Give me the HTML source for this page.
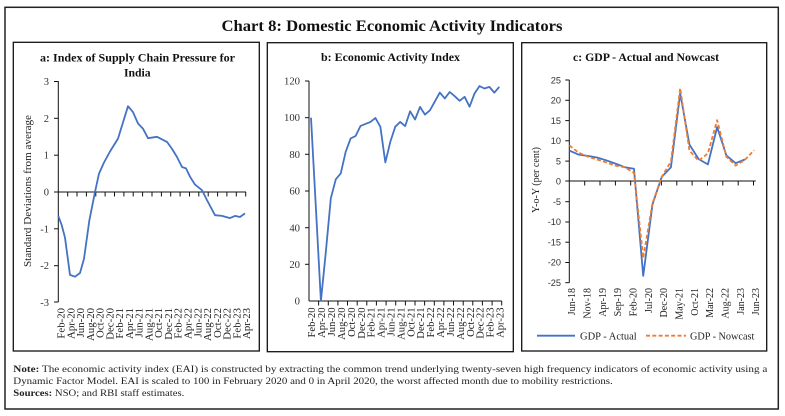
<!DOCTYPE html>
<html>
<head>
<meta charset="utf-8">
<style>
html,body{margin:0;padding:0;background:#fff;}
svg{display:block;}
</style>
</head>
<body>
<svg width="785" height="416" viewBox="0 0 785 416" xmlns="http://www.w3.org/2000/svg" font-family="'Liberation Serif', serif">
<rect x="0" y="0" width="785" height="416" fill="#fff"/>
<!-- outer border -->
<rect x="5" y="7.3" width="773.3" height="401.7" fill="none" stroke="#222" stroke-width="1.5"/>
<!-- main title -->
<text x="392" y="31" text-anchor="middle" font-size="15.5" font-weight="bold" fill="#111" textLength="341" lengthAdjust="spacingAndGlyphs">Chart 8: Domestic Economic Activity Indicators</text>

<!-- panel borders -->
<rect x="13.3" y="42.3" width="246" height="308.7" fill="none" stroke="#111" stroke-width="1.3"/>
<rect x="267.3" y="42.7" width="246" height="309" fill="none" stroke="#111" stroke-width="1.3"/>
<rect x="521.7" y="42.7" width="245" height="308.3" fill="none" stroke="#111" stroke-width="1.3"/>

<!-- ================= Panel a ================= -->
<text x="137.5" y="61.7" text-anchor="middle" font-size="12" font-weight="bold" fill="#111" textLength="195" lengthAdjust="spacingAndGlyphs">a: Index of Supply Chain Pressure for</text>
<text x="137.3" y="76.5" text-anchor="middle" font-size="12" font-weight="bold" fill="#111" textLength="26.7" lengthAdjust="spacingAndGlyphs">India</text>
<text transform="translate(31,191) rotate(-90)" text-anchor="middle" font-size="10.5" fill="#222" textLength="152" lengthAdjust="spacingAndGlyphs">Standard  Deviations from average</text>
<g font-size="10.5" fill="#333" text-anchor="end">
<text x="49" y="85">3</text>
<text x="49" y="121.9">2</text>
<text x="49" y="158.7">1</text>
<text x="49" y="195.5">0</text>
<text x="49" y="232.4">-1</text>
<text x="49" y="269.2">-2</text>
<text x="49" y="306">-3</text>
</g>
<g stroke="#111" stroke-width="1">
<line x1="58.3" y1="81" x2="58.3" y2="302"/>
<line x1="54" y1="81.5" x2="58.3" y2="81.5"/>
<line x1="54" y1="118.3" x2="58.3" y2="118.3"/>
<line x1="54" y1="155.2" x2="58.3" y2="155.2"/>
<line x1="54" y1="192" x2="58.3" y2="192"/>
<line x1="54" y1="228.8" x2="58.3" y2="228.8"/>
<line x1="54" y1="265.7" x2="58.3" y2="265.7"/>
<line x1="54" y1="302" x2="58.3" y2="302"/>
<line x1="58.3" y1="192" x2="246" y2="192"/>
</g>
<g stroke="#111" stroke-width="1">
<line x1="67.7" y1="192" x2="67.7" y2="196.5"/><line x1="77" y1="192" x2="77" y2="196.5"/><line x1="86.4" y1="192" x2="86.4" y2="196.5"/><line x1="95.8" y1="192" x2="95.8" y2="196.5"/><line x1="105.1" y1="192" x2="105.1" y2="196.5"/><line x1="114.5" y1="192" x2="114.5" y2="196.5"/><line x1="123.9" y1="192" x2="123.9" y2="196.5"/><line x1="133.2" y1="192" x2="133.2" y2="196.5"/><line x1="142.6" y1="192" x2="142.6" y2="196.5"/><line x1="152" y1="192" x2="152" y2="196.5"/><line x1="161.4" y1="192" x2="161.4" y2="196.5"/><line x1="170.7" y1="192" x2="170.7" y2="196.5"/><line x1="180.1" y1="192" x2="180.1" y2="196.5"/><line x1="189.5" y1="192" x2="189.5" y2="196.5"/><line x1="198.8" y1="192" x2="198.8" y2="196.5"/><line x1="208.2" y1="192" x2="208.2" y2="196.5"/><line x1="217.6" y1="192" x2="217.6" y2="196.5"/><line x1="226.9" y1="192" x2="226.9" y2="196.5"/><line x1="236.3" y1="192" x2="236.3" y2="196.5"/><line x1="245.7" y1="192" x2="245.7" y2="196.5"/>
</g>
<g font-size="10.8" fill="#222" text-anchor="end">
<text transform="translate(64.5,308) rotate(-90)">Feb-20</text>
<text transform="translate(74.3,308) rotate(-90)">Apr-20</text>
<text transform="translate(84,308) rotate(-90)">Jun-20</text>
<text transform="translate(93.8,308) rotate(-90)">Aug-20</text>
<text transform="translate(103.6,308) rotate(-90)">Oct-20</text>
<text transform="translate(113.4,308) rotate(-90)">Dec-20</text>
<text transform="translate(123.1,308) rotate(-90)">Feb-21</text>
<text transform="translate(132.9,308) rotate(-90)">Apr-21</text>
<text transform="translate(142.7,308) rotate(-90)">Jun-21</text>
<text transform="translate(152.4,308) rotate(-90)">Aug-21</text>
<text transform="translate(162.2,308) rotate(-90)">Oct-21</text>
<text transform="translate(172,308) rotate(-90)">Dec-21</text>
<text transform="translate(181.7,308) rotate(-90)">Feb-22</text>
<text transform="translate(191.5,308) rotate(-90)">Apr-22</text>
<text transform="translate(201.3,308) rotate(-90)">Jun-22</text>
<text transform="translate(211.1,308) rotate(-90)">Aug-22</text>
<text transform="translate(220.8,308) rotate(-90)">Oct-22</text>
<text transform="translate(230.6,308) rotate(-90)">Dec-22</text>
<text transform="translate(240.4,308) rotate(-90)">Feb-23</text>
<text transform="translate(250.1,308) rotate(-90)">Apr-23</text>
</g>
<polyline fill="none" stroke="#4472C4" stroke-width="1.8" stroke-linejoin="round" points="58.3,215.9 61.7,225.1 65,237.7 70,274.9 75,276.7 80,273 84,258.7 89.3,220.7 95,192 99,173.6 104,162.5 110,151.5 118,138.6 128,106.2 133,112.1 138,123.5 143,128.7 148,138.2 157,136.8 167,141.9 172,148.9 177,157 182,167 186,168.4 190,176.7 195,184.6 202,190.2 207,200.1 215,215.2 222,215.9 230,218.1 235,215.9 240,217 245,213.4"/>

<!-- ================= Panel b ================= -->
<text x="390.5" y="61" text-anchor="middle" font-size="12" font-weight="bold" fill="#111" textLength="139" lengthAdjust="spacingAndGlyphs">b: Economic Activity Index</text>
<g font-size="10.7" fill="#333" text-anchor="end">
<text x="300" y="84.5">120</text>
<text x="300" y="121.2">100</text>
<text x="300" y="158">80</text>
<text x="300" y="194.7">60</text>
<text x="300" y="231.3">40</text>
<text x="300" y="268">20</text>
<text x="300" y="304.7">0</text>
</g>
<g stroke="#111" stroke-width="1">
<line x1="309" y1="81" x2="309" y2="301"/>
<line x1="305" y1="81" x2="309" y2="81"/>
<line x1="305" y1="117.7" x2="309" y2="117.7"/>
<line x1="305" y1="154.3" x2="309" y2="154.3"/>
<line x1="305" y1="191" x2="309" y2="191"/>
<line x1="305" y1="227.7" x2="309" y2="227.7"/>
<line x1="305" y1="264.3" x2="309" y2="264.3"/>
<line x1="309" y1="301" x2="501.7" y2="301"/>
<line x1="318.6" y1="301" x2="318.6" y2="305.5"/><line x1="328.3" y1="301" x2="328.3" y2="305.5"/><line x1="337.9" y1="301" x2="337.9" y2="305.5"/><line x1="347.5" y1="301" x2="347.5" y2="305.5"/><line x1="357.2" y1="301" x2="357.2" y2="305.5"/><line x1="366.8" y1="301" x2="366.8" y2="305.5"/><line x1="376.4" y1="301" x2="376.4" y2="305.5"/><line x1="386.1" y1="301" x2="386.1" y2="305.5"/><line x1="395.7" y1="301" x2="395.7" y2="305.5"/><line x1="405.4" y1="301" x2="405.4" y2="305.5"/><line x1="415" y1="301" x2="415" y2="305.5"/><line x1="424.6" y1="301" x2="424.6" y2="305.5"/><line x1="434.3" y1="301" x2="434.3" y2="305.5"/><line x1="443.9" y1="301" x2="443.9" y2="305.5"/><line x1="453.5" y1="301" x2="453.5" y2="305.5"/><line x1="463.2" y1="301" x2="463.2" y2="305.5"/><line x1="472.8" y1="301" x2="472.8" y2="305.5"/><line x1="482.4" y1="301" x2="482.4" y2="305.5"/><line x1="492.1" y1="301" x2="492.1" y2="305.5"/><line x1="501.7" y1="301" x2="501.7" y2="305.5"/>
</g>
<g font-size="10.6" fill="#222" text-anchor="end">
<text transform="translate(315.2,307.5) rotate(-90)">Feb-20</text>
<text transform="translate(325.1,307.5) rotate(-90)">Apr-20</text>
<text transform="translate(335,307.5) rotate(-90)">Jun-20</text>
<text transform="translate(344.9,307.5) rotate(-90)">Aug-20</text>
<text transform="translate(354.8,307.5) rotate(-90)">Oct-20</text>
<text transform="translate(364.8,307.5) rotate(-90)">Dec-20</text>
<text transform="translate(374.7,307.5) rotate(-90)">Feb-21</text>
<text transform="translate(384.6,307.5) rotate(-90)">Apr-21</text>
<text transform="translate(394.5,307.5) rotate(-90)">Jun-21</text>
<text transform="translate(404.4,307.5) rotate(-90)">Aug-21</text>
<text transform="translate(414.3,307.5) rotate(-90)">Oct-21</text>
<text transform="translate(424.2,307.5) rotate(-90)">Dec-21</text>
<text transform="translate(434.1,307.5) rotate(-90)">Feb-22</text>
<text transform="translate(444,307.5) rotate(-90)">Apr-22</text>
<text transform="translate(453.9,307.5) rotate(-90)">Jun-22</text>
<text transform="translate(463.9,307.5) rotate(-90)">Aug-22</text>
<text transform="translate(473.8,307.5) rotate(-90)">Oct-22</text>
<text transform="translate(483.7,307.5) rotate(-90)">Dec-22</text>
<text transform="translate(493.6,307.5) rotate(-90)">Feb-23</text>
<text transform="translate(503.5,307.5) rotate(-90)">Apr-23</text>
</g>
<polyline fill="none" stroke="#4472C4" stroke-width="1.8" stroke-linejoin="round" points="311,117.7 315.96,209.3 320.91,301 325.87,251.5 330.82,198.3 335.78,179.3 340.73,173.4 345.69,151.8 350.64,138.4 355.6,136 360.55,125.9 365.51,123.9 370.46,121.9 375.42,117.9 380.37,126.8 385.33,162.4 390.28,141.9 395.24,126.8 400.19,121.9 405.15,126.1 410.1,111.3 415.06,119.5 420.01,106.9 424.97,114.6 429.92,110.3 434.88,101.4 439.83,92.6 444.79,98.4 449.74,92 454.7,96.2 459.65,100.8 464.61,96.8 469.56,106.7 474.52,93.5 479.47,86.1 484.43,88.5 489.38,86.9 494.34,92.6 499.29,86.9"/>

<!-- ================= Panel c ================= -->
<text x="646" y="61" text-anchor="middle" font-size="12" font-weight="bold" fill="#111" textLength="146" lengthAdjust="spacingAndGlyphs">c: GDP - Actual and Nowcast</text>
<text transform="translate(539,180) rotate(-90)" text-anchor="middle" font-size="10.3" fill="#222" textLength="66" lengthAdjust="spacingAndGlyphs">Y-o-Y (per cent)</text>
<g font-size="9.2" fill="#333" text-anchor="end" font-family="'Liberation Sans', sans-serif">
<text x="561" y="83.3">25</text>
<text x="561" y="103.6">20</text>
<text x="561" y="123.9">15</text>
<text x="561" y="144.1">10</text>
<text x="561" y="164.4">5</text>
<text x="561" y="184.3">0</text>
<text x="561" y="204.9">-5</text>
<text x="561" y="225.2">-10</text>
<text x="561" y="245.5">-15</text>
<text x="561" y="265.7">-20</text>
<text x="561" y="286">-25</text>
</g>
<g stroke="#111" stroke-width="1">
<line x1="569.3" y1="80" x2="569.3" y2="282.7"/>
<line x1="565.3" y1="80" x2="569.3" y2="80"/>
<line x1="565.3" y1="100.3" x2="569.3" y2="100.3"/>
<line x1="565.3" y1="120.6" x2="569.3" y2="120.6"/>
<line x1="565.3" y1="140.8" x2="569.3" y2="140.8"/>
<line x1="565.3" y1="161.1" x2="569.3" y2="161.1"/>
<line x1="565.3" y1="201.7" x2="569.3" y2="201.7"/>
<line x1="565.3" y1="222" x2="569.3" y2="222"/>
<line x1="565.3" y1="242.2" x2="569.3" y2="242.2"/>
<line x1="565.3" y1="262.5" x2="569.3" y2="262.5"/>
<line x1="565.3" y1="282.7" x2="569.3" y2="282.7"/>
<line x1="565.3" y1="181" x2="755.7" y2="181"/>
<line x1="584.7" y1="181" x2="584.7" y2="185.5"/><line x1="600" y1="181" x2="600" y2="185.5"/><line x1="615.4" y1="181" x2="615.4" y2="185.5"/><line x1="630.7" y1="181" x2="630.7" y2="185.5"/><line x1="646.1" y1="181" x2="646.1" y2="185.5"/><line x1="661.4" y1="181" x2="661.4" y2="185.5"/><line x1="676.8" y1="181" x2="676.8" y2="185.5"/><line x1="692.1" y1="181" x2="692.1" y2="185.5"/><line x1="707.5" y1="181" x2="707.5" y2="185.5"/><line x1="722.8" y1="181" x2="722.8" y2="185.5"/><line x1="738.2" y1="181" x2="738.2" y2="185.5"/><line x1="753.5" y1="181" x2="753.5" y2="185.5"/>
</g>
<g font-size="10" fill="#222" text-anchor="end">
<text transform="translate(575.2,288) rotate(-90)">Jun-18</text>
<text transform="translate(590.5,288) rotate(-90)">Nov-18</text>
<text transform="translate(605.9,288) rotate(-90)">Apr-19</text>
<text transform="translate(621.2,288) rotate(-90)">Sep-19</text>
<text transform="translate(636.5,288) rotate(-90)">Feb-20</text>
<text transform="translate(651.9,288) rotate(-90)">Jul-20</text>
<text transform="translate(667.2,288) rotate(-90)">Dec-20</text>
<text transform="translate(682.5,288) rotate(-90)">May-21</text>
<text transform="translate(697.8,288) rotate(-90)">Oct-21</text>
<text transform="translate(713.2,288) rotate(-90)">Mar-22</text>
<text transform="translate(728.5,288) rotate(-90)">Aug-22</text>
<text transform="translate(743.8,288) rotate(-90)">Jan-23</text>
<text transform="translate(759.2,288) rotate(-90)">Jun-23</text>
</g>
<polyline fill="none" stroke="#4472C4" stroke-width="1.8" stroke-linejoin="round" points="569.3,150.6 578.54,154.6 587.78,155.9 597.02,157.5 606.26,160.3 615.5,163.6 624.74,167.2 633.98,168.8 643.22,275.9 652.46,204.5 661.7,177 670.94,167.2 680.18,93.4 689.42,144.5 698.66,159.1 707.9,164.4 717.14,127.1 726.38,155.5 735.62,163.2 744.86,159.5"/>
<polyline fill="none" stroke="#ED7D31" stroke-width="1.8" stroke-dasharray="4,2.3" stroke-linejoin="round" points="569.3,145.3 578.54,152.6 587.78,156.7 597.02,159.5 606.26,162.4 615.5,165.6 624.74,167.2 633.98,172.9 643.22,258 652.46,203.3 661.7,177 670.94,161.5 680.18,88.2 689.42,150.6 698.66,160.7 707.9,153.4 717.14,120.2 726.38,156.7 735.62,165.6 744.86,159.9 754.1,150.2"/>
<!-- legend -->
<line x1="537" y1="335.7" x2="575" y2="335.7" stroke="#4472C4" stroke-width="1.8"/>
<text x="580" y="339.3" font-size="10.5" fill="#222" textLength="56.7" lengthAdjust="spacingAndGlyphs">GDP - Actual</text>
<line x1="646" y1="335.7" x2="686" y2="335.7" stroke="#ED7D31" stroke-width="1.8" stroke-dasharray="4,2.3"/>
<text x="690" y="339.3" font-size="10.5" fill="#222" textLength="64.3" lengthAdjust="spacingAndGlyphs">GDP - Nowcast</text>

<!-- ================= Notes ================= -->
<g font-size="9.6" fill="#222">
<text x="13.3" y="372" textLength="754" lengthAdjust="spacingAndGlyphs"><tspan font-weight="bold">Note:</tspan> The economic activity index (EAI) is constructed by extracting the common trend underlying twenty-seven high frequency indicators of economic activity using a</text>
<text x="13.3" y="384" textLength="599.5" lengthAdjust="spacingAndGlyphs">Dynamic Factor Model. EAI is scaled to 100 in February 2020 and 0 in April 2020, the worst affected month due to mobility restrictions.</text>
<text x="13.3" y="396" textLength="171" lengthAdjust="spacingAndGlyphs"><tspan font-weight="bold">Sources:</tspan> NSO; and RBI staff estimates.</text>
</g>
</svg>
</body>
</html>
